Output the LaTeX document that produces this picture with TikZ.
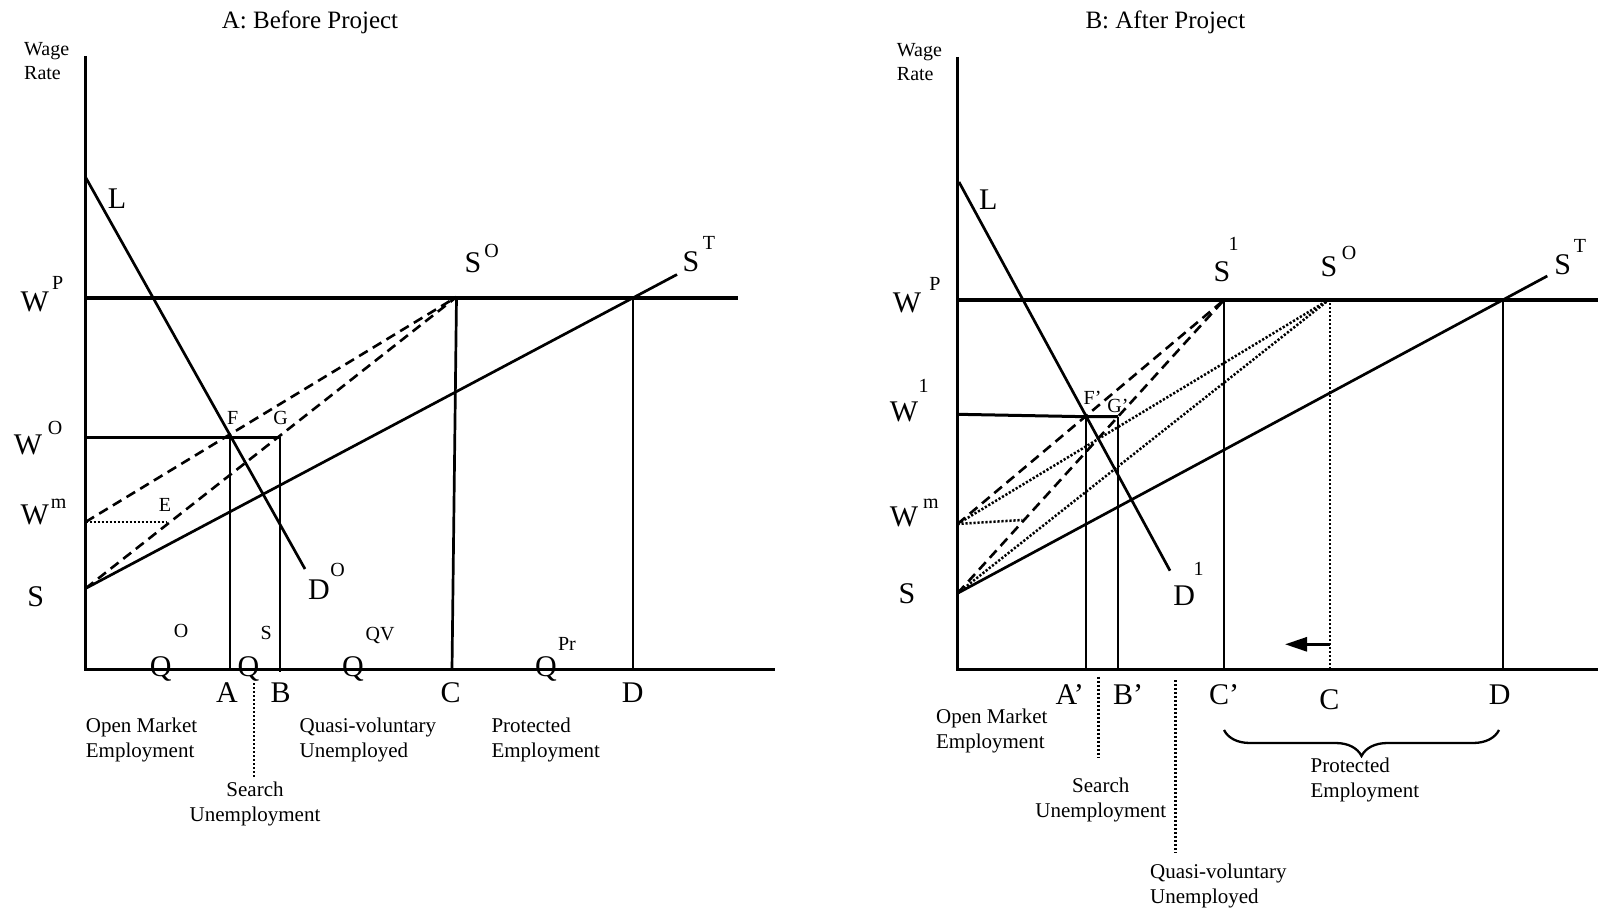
\documentclass[tikz,border=0pt]{standalone}
\usepackage{fontspec}
\setmainfont{Liberation Serif}
\usetikzlibrary{arrows.meta,decorations.pathreplacing}
\definecolor{figInk}{RGB}{0,0,0}

\begin{document}
\begin{tikzpicture}[x=1pt,y=-1pt,line join=miter]
\tikzset{
axis/.style={draw=figInk,line width=3.4pt},
curve/.style={draw=figInk,line width=2.7pt},
dashline/.style={draw=figInk,line width=2.6pt,dash pattern=on 10pt off 6pt},
dotline/.style={draw=figInk,line width=2.5pt,dash pattern=on 2.2pt off 1.8pt},
big/.style={font=\fontsize{30}{30}\selectfont,text=figInk,inner sep=0pt,text depth=0pt},
sup/.style={font=\fontsize{20}{20}\selectfont,text=figInk,inner sep=0pt,text depth=0pt},
tag/.style={font=\fontsize{20}{20}\selectfont,text=figInk,inner sep=0pt,text depth=0pt},
txt/.style={font=\fontsize{21}{25}\selectfont,text=figInk,inner sep=0pt,align=left,anchor=west},
head/.style={font=\fontsize{25}{25}\selectfont,text=figInk,inner sep=0pt}
}
\useasboundingbox (0,0) rectangle (1598,912);

% ---- A: before project
\node[head] (aHead) at (310,22) {A: Before Project};
\node[txt,font=\fontsize{20}{24}\selectfont] (aWage) at (24,61) {Wage\\Rate};
\coordinate (aTop) at (85.5,56);
\coordinate (aO) at (85.5,669.5);
\coordinate (aEnd) at (775,669.5);
\coordinate (aL) at (86,178);
\coordinate (aLend) at (305,569);
\coordinate (aWp) at (85.5,298);
\coordinate (aWpend) at (738,298);
\coordinate (aSO) at (456.5,297);
\coordinate (aSObot) at (452,669.5);
\coordinate (aD) at (633,298);
\coordinate (aS) at (85.5,588.5);
\coordinate (aST) at (677,274.5);
\coordinate (aWo) at (85.5,437);
\coordinate (aF) at (230,437);
\coordinate (aG) at (280,437);
\coordinate (aWm) at (85.5,522);
\coordinate (aE) at (166.5,522);
\coordinate (aSrch) at (254,683);
\coordinate (aSrchEnd) at (254,778);

\draw[axis] (aTop) -- (aO) -- (aEnd);
\draw[axis] (aWp) -- (aWpend);
\draw[axis,line width=3pt] (aWo) -- (aG);
\draw[curve] (aL) -- (aLend);
\draw[curve] (aS) -- (aST);
\draw[curve] (aSO) -- (aSObot);
\draw[curve] (aD) -- (aD |- aO);
\draw[curve] (aF) -- (aF |- aO);
\draw[curve] (aG) -- ([yshift=-2pt]aG |- aO);
\draw[dashline] (aWm) -- (aSO);
\draw[dashline] (aS) -- (aSO);
\draw[dotline] (aWm) -- (aE);
\draw[dotline] (aSrch) -- (aSrchEnd);

\foreach \nm/\x/\y/\t in {aLlab/117/199/L, aWpW/34.7/302/W, aSOS/473/263/S, aSTS/691/262/S,
  aWoW/28/445/W, aWmW/34.7/515/W, aSlab/35.7/596.7/S, aDOD/319/590/D,
  aQo/160.7/667/Q, aQs/248.5/667/Q, aQqv/353/667/Q, aQpr/546/667/Q,
  aAlab/227/692.7/A, aBlab/280.6/692.7/B, aClab/450.5/692.7/C, aDlab/632.7/692.7/D}
  \node[big] (\nm) at (\x,\y) {\t};
\foreach \nm/\x/\y/\t in {aWpP/57.7/283/P, aSOo/491.7/250.7/O, aSTt/709/243/T,
  aWoO/55/428.3/O, aWmM/58.7/503.3/m, aDOo/337.7/570/O,
  aQoO/181/631/O, aQsS/266.3/633/S, aQqvQV/380/634/QV, aQprPr/567/644/Pr}
  \node[sup] (\nm) at (\x,\y) {\t};
\node[tag] (aFlab) at (232.7,418) {F};
\node[tag] (aGlab) at (280.7,418) {G};
\node[tag] (aElab) at (165,505) {E};

\node[txt] (aOpen) at (85.7,740) {Open Market\\Employment};
\node[txt] (aQuasi) at (299.5,740) {Quasi-voluntary\\Unemployed};
\node[txt] (aProt) at (491.3,740) {Protected\\Employment};
\node[txt,align=center,anchor=center] (aSearch) at (255,804) {Search\\Unemployment};

% ---- B: after project
\node[head] (bHead) at (1165.4,22) {B: After Project};
\node[txt,font=\fontsize{20}{24}\selectfont] (bWage) at (896.7,62) {Wage\\Rate};
\coordinate (bTop) at (957.5,57);
\coordinate (bO) at (957.5,669.5);
\coordinate (bEnd) at (1598,669.5);
\coordinate (bL) at (959,182);
\coordinate (bLend) at (1170,570.7);
\coordinate (bWp) at (957.5,300);
\coordinate (bWpend) at (1598,300);
\coordinate (bS1) at (1224,300);
\coordinate (bSO) at (1330,299);
\coordinate (bD) at (1503,300);
\coordinate (bS) at (957.5,593.3);
\coordinate (bST) at (1547.3,276);
\coordinate (bW1) at (957.5,414.3);
\coordinate (bF) at (1086,416.7);
\coordinate (bG) at (1118,416.7);
\coordinate (bWm) at (957.5,524);
\coordinate (bE) at (1022.4,520);
\coordinate (bArr) at (1330,644.3);
\coordinate (bArrTip) at (1285,644.3);
\coordinate (bSrch) at (1098.7,676.7);
\coordinate (bSrchEnd) at (1098.7,758.3);
\coordinate (bQv) at (1175.6,680);
\coordinate (bQvEnd) at (1175.6,853.3);
\coordinate (bBrL) at (1224,730);
\coordinate (bBrR) at (1499,730);

\draw[axis] (bTop) -- (bO) -- (bEnd);
\draw[axis] (bWp) -- (bWpend);
\draw[axis,line width=3pt] (bW1) -- (bF) -- (bG);
\draw[curve] (bL) -- (bLend);
\draw[curve] (bS) -- (bST);
\draw[curve] (bS1) -- (bS1 |- bO);
\draw[curve] (bD) -- (bD |- bO);
\draw[curve] (bF) -- (bF |- bO);
\draw[curve] (bG) -- (bG |- bO);
\draw[dashline] (bWm) -- (bS1);
\draw[dashline] (bS) -- (bS1);
\draw[dotline] (bWm) -- (bSO);
\draw[dotline] (bS) -- (bSO);
\draw[dotline] (bWm) -- (bE);
\draw[dotline] (bSO) -- (bSO |- bO);
\draw[dotline] (bSrch) -- (bSrchEnd);
\draw[dotline] (bQv) -- (bQvEnd);
\draw[draw=figInk,line width=2.8pt,-{Triangle[length=22pt,width=14pt]}] (bArr) -- (bArrTip);
\draw[draw=figInk,line width=2.3pt,decorate,decoration={brace,mirror,amplitude=26pt}] (bBrL) -- (bBrR);

\foreach \nm/\x/\y/\t in {bLlab/988.3/200/L, bWpW/906.9/303/W, bS1S/1222/272/S, bSOS/1329/267/S,
  bSTS/1562.7/265/S, bW1W/904/411.7/W, bWmW/904/516.7/W, bSlab/906.9/593.3/S, bD1D/1184.2/596/D,
  bAlab/1069.7/695/A’, bBlab/1128.2/695/B’, bClab/1224/695/C’, bCold/1329.3/699.3/C, bDlab/1499.7/695/D}
  \node[big] (\nm) at (\x,\y) {\t};
\foreach \nm/\x/\y/\t in {bWpP/934.9/284/P, bS1one/1233.6/244/1, bSOo/1349/252.7/O, bSTt/1580/246/T,
  bW1one/923.7/385.7/1, bWmM/930.8/504/m, bD1one/1198.5/569.3/1}
  \node[sup] (\nm) at (\x,\y) {\t};
\node[tag] (bFlab) at (1092.6,397.7) {F’};
\node[tag] (bGlab) at (1118,406) {G’};

\node[txt] (bOpen) at (935.9,731) {Open Market\\Employment};
\node[txt,align=center,anchor=center] (bSearch) at (1100.8,800) {Search\\Unemployment};
\node[txt] (bProt) at (1310.4,780) {Protected\\Employment};
\node[txt] (bQuasi) at (1150,886) {Quasi-voluntary\\Unemployed};
\end{tikzpicture}
\end{document}
